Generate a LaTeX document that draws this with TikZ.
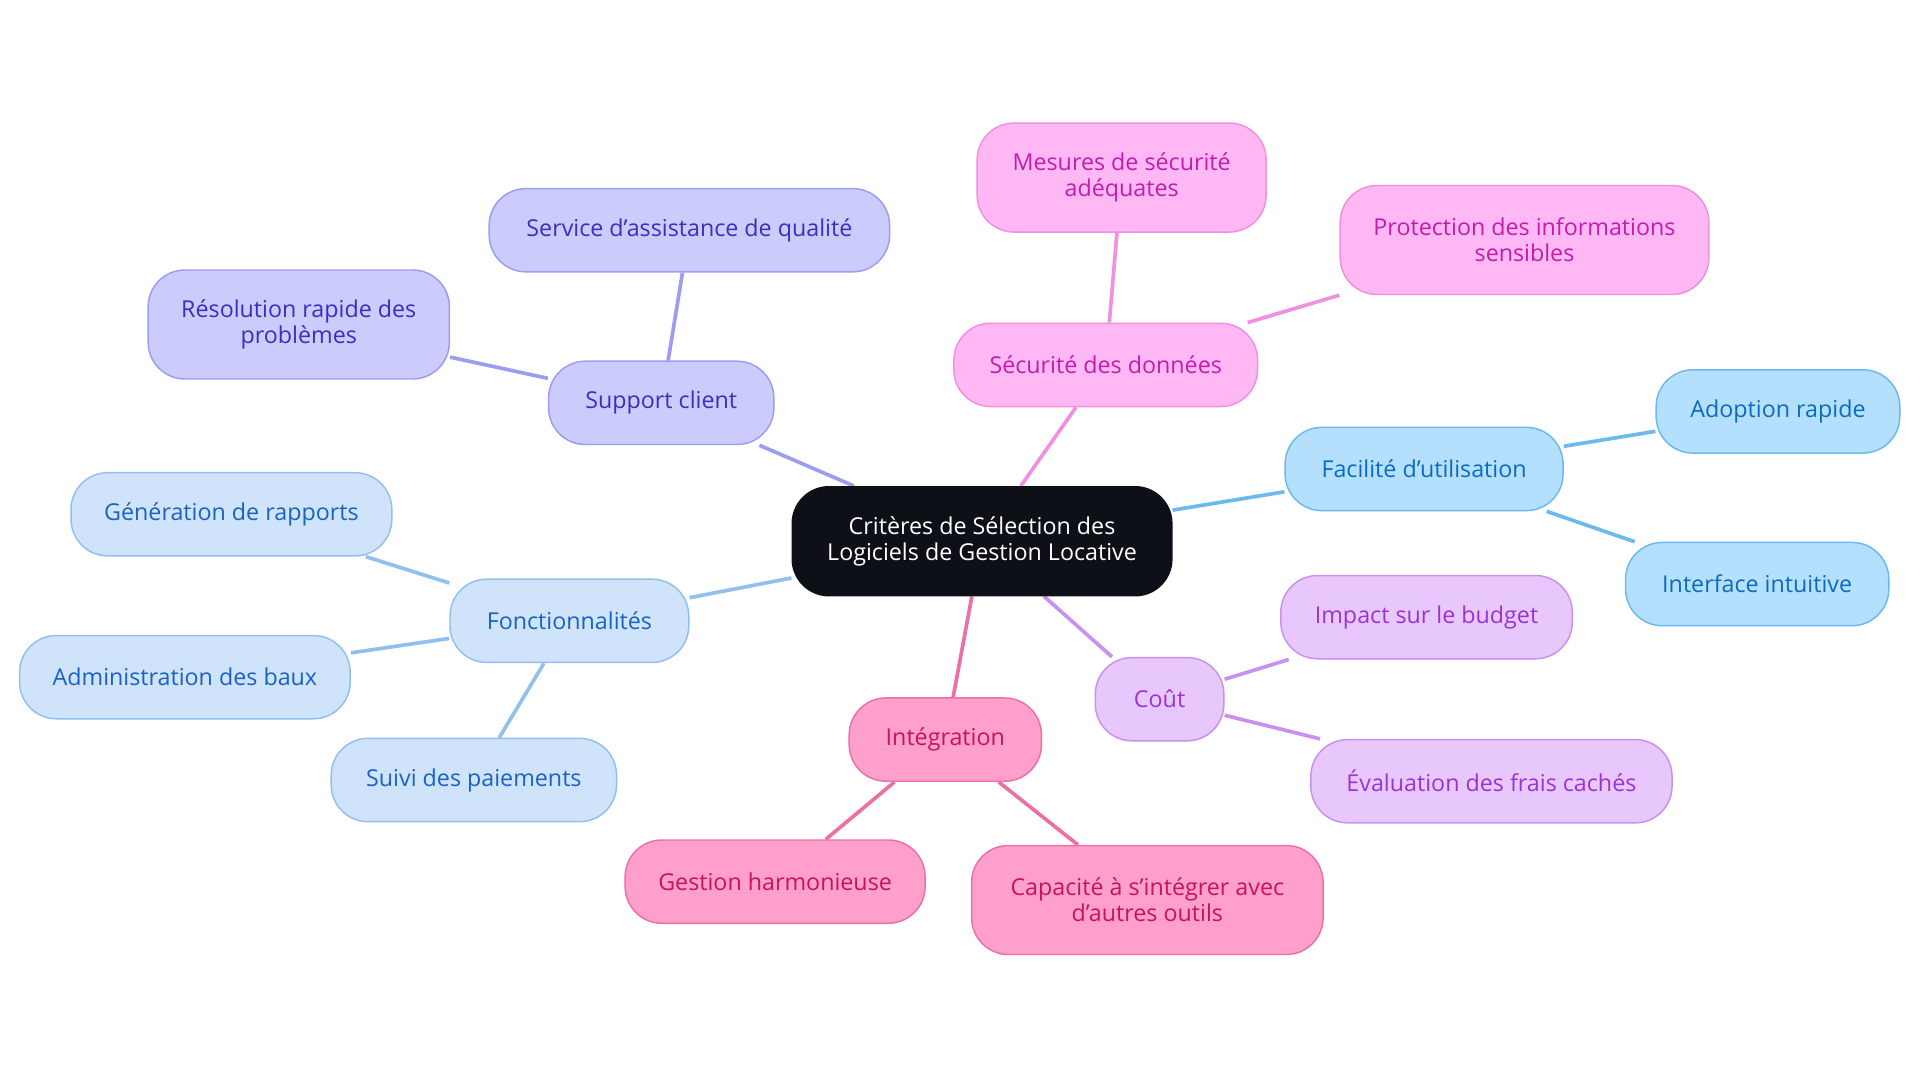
\documentclass[tikz,border=0pt]{standalone}
\usepackage{fontspec}
\setmainfont{Open Sans}
\usetikzlibrary{backgrounds}
\definecolor{rootf}{HTML}{0D1117}
\definecolor{supf}{HTML}{CBCBFC}\definecolor{supd}{HTML}{9C9CF0}\definecolor{supt}{HTML}{3730C0}
\definecolor{secf}{HTML}{FFB8F3}\definecolor{secd}{HTML}{F090E0}\definecolor{sect}{HTML}{C21CB0}
\definecolor{facf}{HTML}{B5E0FD}\definecolor{facd}{HTML}{6CB9EF}\definecolor{fact}{HTML}{0A6BBF}
\definecolor{couf}{HTML}{E8C8FC}\definecolor{coud}{HTML}{C990EF}\definecolor{cout}{HTML}{9B32D6}
\definecolor{intf}{HTML}{FF9FCB}\definecolor{intd}{HTML}{EC6FA8}\definecolor{intt}{HTML}{C7125F}
\definecolor{fonf}{HTML}{CFE3FB}\definecolor{fond}{HTML}{92C0EE}\definecolor{font}{HTML}{1A63C0}
\tikzset{
 box/.style={rounded corners=15pt,align=center,font=\fontsize{9.5}{10.5}\selectfont,inner sep=0pt,minimum height=34pt,line width=0.6pt},
 sup/.style={box,fill=supf,draw=supd,text=supt},
 sec/.style={box,fill=secf,draw=secd,text=sect},
 fac/.style={box,fill=facf,draw=facd,text=fact},
 cou/.style={box,fill=couf,draw=coud,text=cout},
 inte/.style={box,fill=intf,draw=intd,text=intt},
 fon/.style={box,fill=fonf,draw=fond,text=font},
 tall/.style={minimum height=44.5pt},
 ed/.style={line width=1.5pt},
}
\begin{document}
\begin{tikzpicture}[x=0.5pt,y=-0.5pt]
\useasboundingbox (0,0) rectangle (1568,884);
\node[box,fill=rootf,draw=rootf,text=white,minimum width=155pt,tall] (r) at (802,442) {Critères de Sélection des\\Logiciels de Gestion Locative};
\node[sup,minimum width=92pt] (s) at (540,329) {Support client};
\node[sup,minimum width=163.5pt] (s1) at (563,188) {Service d'assistance de qualité};
\node[sup,minimum width=123pt,tall] (s2) at (244,265) {Résolution rapide des\\problèmes};
\node[sec,minimum width=124pt] (d) at (903,298) {Sécurité des données};
\node[sec,minimum width=118pt,tall] (d1) at (916,145) {Mesures de sécurité\\adéquates};
\node[sec,minimum width=150.5pt,tall] (d2) at (1245,196) {Protection des informations\\sensibles};
\node[fac,minimum width=113.5pt] (f) at (1163,383) {Facilité d'utilisation};
\node[fac,minimum width=99.5pt] (f1) at (1452,336) {Adoption rapide};
\node[fac,minimum width=107.5pt] (f2) at (1435,477) {Interface intuitive};
\node[cou,minimum width=52.5pt] (c) at (947,571) {Coût};
\node[cou,minimum width=119pt] (c1) at (1165,504) {Impact sur le budget};
\node[cou,minimum width=147.5pt] (c2) at (1218,638) {Évaluation des frais cachés};
\node[inte,minimum width=78.5pt] (i) at (772,604) {Intégration};
\node[inte,minimum width=122.5pt] (i1) at (633,720) {Gestion harmonieuse};
\node[inte,minimum width=143.5pt,tall] (i2) at (937,735) {Capacité à s'intégrer avec\\d'autres outils};
\node[fon,minimum width=97.5pt] (o) at (465,507) {Fonctionnalités};
\node[fon,minimum width=131pt] (o1) at (189,420) {Génération de rapports};
\node[fon,minimum width=135pt] (o2) at (151,553) {Administration des baux};
\node[fon,minimum width=116.5pt] (o3) at (387,637) {Suivi des paiements};
\begin{scope}[on background layer]
\draw[ed,supd] (r) -- (s); \draw[ed,supd] (s) -- (s1); \draw[ed,supd] (s) -- (s2);
\draw[ed,secd] (r) -- (d); \draw[ed,secd] (d) -- (d1); \draw[ed,secd] (d) -- (d2);
\draw[ed,facd] (r) -- (f); \draw[ed,facd] (f) -- (f1); \draw[ed,facd] (f) -- (f2);
\draw[ed,coud] (r) -- (c); \draw[ed,coud] (c) -- (c1); \draw[ed,coud] (c) -- (c2);
\draw[ed,intd] (r) -- (i); \draw[ed,intd] (i) -- (i1); \draw[ed,intd] (i) -- (i2);
\draw[ed,fond] (r) -- (o); \draw[ed,fond] (o) -- (o1); \draw[ed,fond] (o) -- (o2); \draw[ed,fond] (o) -- (o3);
\end{scope}
\end{tikzpicture}
\end{document}
